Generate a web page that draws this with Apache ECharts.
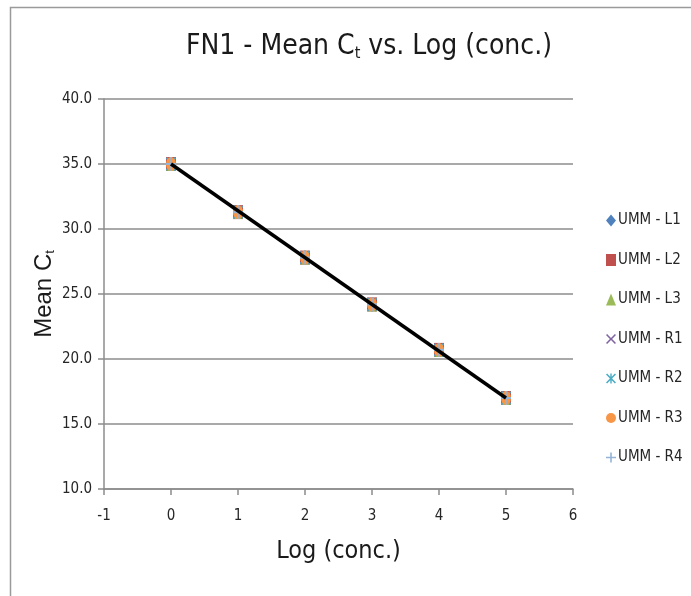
<!DOCTYPE html>
<html>
<head>
<meta charset="utf-8">
<title>FN1 - Mean Ct vs. Log (conc.)</title>
<script src="https://cdn.jsdelivr.net/npm/echarts@6/dist/echarts.min.js"></script>
<style>
  html, body { margin: 0; padding: 0; background: #fff; }
  #main { width: 691px; height: 596px; }
</style>
</head>
<body>
<div id="main"></div>
<script>
// log(conc.) positions
const logConc = [0, 1, 2, 3, 4, 5]
// mean Ct per sample (they all overlap)
const ummL1 = [35.0, 31.3, 27.8, 24.2, 20.7, 17.0]
const ummL2 = [35.0, 31.3, 27.8, 24.2, 20.7, 17.0]
const ummL3 = [35.0, 31.3, 27.8, 24.2, 20.7, 17.0]
const ummR1 = [35.0, 31.3, 27.8, 24.2, 20.7, 17.0]
const ummR2 = [35.0, 31.3, 27.8, 24.2, 20.7, 17.0]
const ummR3 = [35.0, 31.3, 27.8, 24.2, 20.7, 17.0]
const ummR4 = [35.0, 31.3, 27.8, 24.2, 20.7, 17.0]
// linear trendline end points
const trendX = [0, 5]
const trendY = [35.0, 17.0]

const condFont = '"Liberation Sans Narrow", "DejaVu Sans Condensed", "Roboto", sans-serif'

const plusPath = 'path://M4.2,0 H5.8 V4.2 H10 V5.8 H5.8 V10 H4.2 V5.8 H0 V4.2 H4.2 Z'
const crossPath = 'path://M1.1,0 L5,3.9 L8.9,0 L10,1.1 L6.1,5 L10,8.9 L8.9,10 L5,6.1 L1.1,10 L0,8.9 L3.9,5 L0,1.1 Z'
const starPath = 'path://M1.1,0 L4.3,3.2 V0 H5.7 V3.2 L8.9,0 L10,1.1 L6.1,5 L10,8.9 L8.9,10 L5.7,6.8 V10 H4.3 V6.8 L1.1,10 L0,8.9 L3.9,5 L0,1.1 Z'

function pairs (ys) {
  return logConc.map((x, i) => [x, ys[i]])
}

const sets = [
  { name: 'UMM - L1', data: ummL1, color: '#4F81BD', symbol: 'diamond' },
  { name: 'UMM - L2', data: ummL2, color: '#C0504D', symbol: 'rect' },
  { name: 'UMM - L3', data: ummL3, color: '#9BBB59', symbol: 'triangle' },
  { name: 'UMM - R1', data: ummR1, color: '#8064A2', symbol: crossPath },
  { name: 'UMM - R2', data: ummR2, color: '#4BACC6', symbol: starPath },
  { name: 'UMM - R3', data: ummR3, color: '#F79646', symbol: 'circle' },
  { name: 'UMM - R4', data: ummR4, color: '#95B3D7', symbol: plusPath }
]

const series = sets.map(s => ({
  name: s.name,
  type: 'scatter',
  symbol: s.symbol,
  symbolSize: [10, 14],
  itemStyle: { color: s.color, opacity: 1 },
  data: pairs(s.data),
  z: 3
}))

series.push({
  name: 'trend',
  type: 'line',
  data: trendX.map((x, i) => [x, trendY[i]]),
  symbol: 'none',
  lineStyle: { color: '#000', width: 3.5 },
  z: 5,
  silent: true
})

const chart = echarts.init(document.getElementById('main'))
chart.setOption({
  animation: false,
  title: {
    text: 'FN1 - Mean C{sub|t} vs. Log (conc.)',
    left: 364,
    top: 27,
    textAlign: 'center',
    textStyle: {
      fontFamily: condFont,
      fontSize: 28,
      fontWeight: 'normal',
      color: '#1a1a1a',
      rich: {
        sub: { fontFamily: condFont, fontSize: 16, color: '#1a1a1a', verticalAlign: 'bottom', padding: [14, 0, 0, 0] }
      }
    }
  },
  graphic: [{
    type: 'rect',
    shape: { x: 10.5, y: 7.5, width: 720, height: 620 },
    style: { fill: 'none', stroke: '#9a9a9a', lineWidth: 1.5 },
    silent: true,
    z: -1
  }],
  legend: {
    data: sets.map(s => s.name),
    orient: 'vertical',
    left: 601,
    top: 208,
    itemWidth: 10,
    itemHeight: 12,
    itemGap: 24.5,
    textStyle: { fontFamily: condFont, fontSize: 15, color: '#262626', padding: [0, 0, 0, -3] }
  },
  grid: { left: 104, right: 118, top: 99, bottom: 107 },
  xAxis: {
    type: 'value',
    min: -1,
    max: 6,
    interval: 1,
    name: 'Log (conc.)',
    nameLocation: 'middle',
    nameGap: 50,
    nameTextStyle: { fontFamily: condFont, fontSize: 25, color: '#1a1a1a' },
    axisLine: { onZero: false, lineStyle: { color: '#8c8c8c', width: 1.5 } },
    axisTick: { show: true, length: 6, lineStyle: { color: '#8c8c8c', width: 1.5 } },
    axisLabel: { margin: 20, fontFamily: condFont, fontSize: 15, color: '#262626' },
    splitLine: { show: false }
  },
  yAxis: {
    type: 'value',
    min: 10,
    max: 40,
    interval: 5,
    name: 'Mean C{sub|t}',
    nameLocation: 'middle',
    nameGap: 47,
    nameMoveOverlap: false,
    nameTextStyle: {
      fontFamily: 'Liberation Sans, Arial, sans-serif',
      fontSize: 24,
      color: '#1a1a1a',
      rich: {
        sub: { fontFamily: 'Liberation Sans, Arial, sans-serif', fontSize: 13, color: '#1a1a1a', padding: [12, 0, 0, 0] }
      }
    },
    axisLine: { show: true, onZero: false, lineStyle: { color: '#8c8c8c', width: 1.5 } },
    axisTick: { show: true, length: 6, lineStyle: { color: '#8c8c8c', width: 1.5 } },
    axisLabel: {
      margin: 12,
      fontFamily: condFont,
      fontSize: 15,
      color: '#262626',
      formatter: v => v.toFixed(1)
    },
    splitLine: { show: true, lineStyle: { color: '#8c8c8c', width: 1.5 } }
  },
  series: series
})
</script>
</body>
</html>
